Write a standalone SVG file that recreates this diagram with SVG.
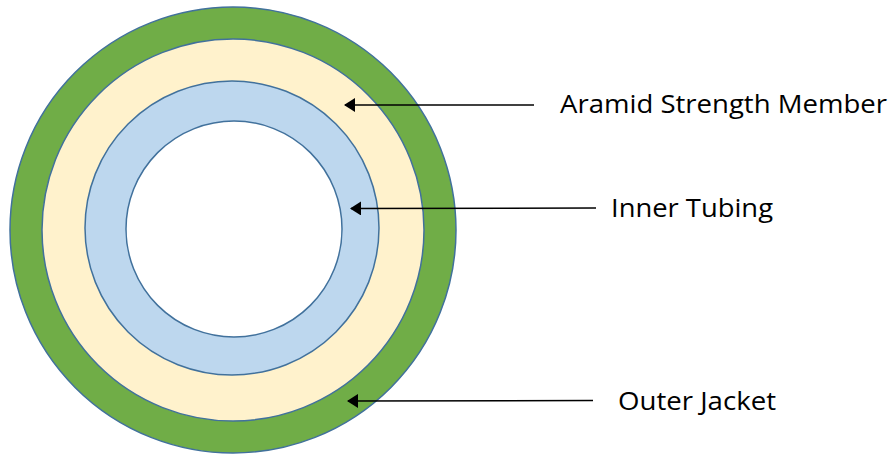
<svg xmlns="http://www.w3.org/2000/svg" width="893" height="455" viewBox="0 0 893 455">
<defs>
<style>
.ring{stroke:#41719c;stroke-width:1.5}
.lbl{font-family:"Open Sans","Liberation Sans",sans-serif;font-size:25px;fill:#000}
.conn{stroke:#000;stroke-width:1.5;fill:none}
</style>
<marker id="ah" viewBox="0 0 11 14" refX="10" refY="7" markerWidth="11" markerHeight="14" markerUnits="userSpaceOnUse" orient="auto">
<path d="M0,0 L11,7 L0,14 Z" fill="#000"/>
</marker>
</defs>
<rect width="893" height="455" fill="#fff"/>
<g id="outer-jacket"><circle class="ring" cx="233" cy="230" r="223" fill="#70ad47"/></g>
<g id="aramid"><circle class="ring" cx="233" cy="230" r="191" fill="#fff2cc"/></g>
<g id="inner-tubing"><circle class="ring" cx="232" cy="228" r="147" fill="#bdd7ee"/></g>
<g id="core"><circle class="ring" cx="234" cy="229" r="108" fill="#fff"/></g>
<g id="connectors">
<line class="conn" x1="534" y1="105" x2="345" y2="105" marker-end="url(#ah)"/>
<line class="conn" x1="596" y1="208" x2="351" y2="208.5" marker-end="url(#ah)"/>
<line class="conn" x1="593" y1="400.5" x2="348" y2="401" marker-end="url(#ah)"/>
</g>
<g id="labels">
<text class="lbl" x="560" y="113" textLength="327" lengthAdjust="spacingAndGlyphs">Aramid Strength Member</text>
<text class="lbl" x="611" y="217" textLength="162" lengthAdjust="spacingAndGlyphs">Inner Tubing</text>
<text class="lbl" x="618" y="410" textLength="158" lengthAdjust="spacingAndGlyphs">Outer Jacket</text>
</g>
</svg>
